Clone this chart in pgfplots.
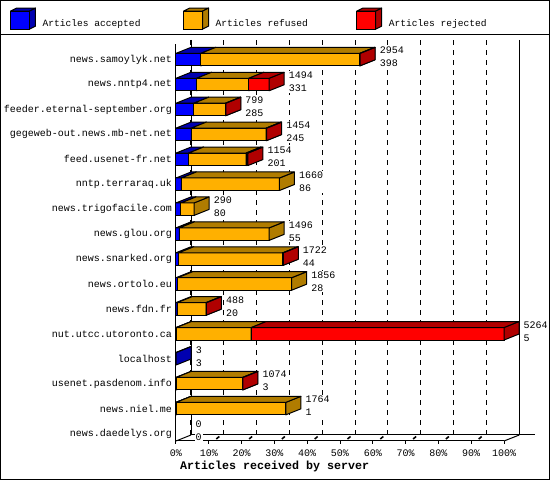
\documentclass[border=0pt]{standalone}
\usepackage{fontspec}
\setmainfont{Liberation Mono}
\usepackage{pgfplots}
\usepackage{pgfplotstable}
\pgfplotsset{compat=1.18}

\definecolor{accA}{HTML}{0000FF}
\definecolor{accB}{HTML}{0000B0}
\definecolor{refA}{HTML}{FFB000}
\definecolor{refB}{HTML}{B07C00}
\definecolor{rejA}{HTML}{FF0000}
\definecolor{rejB}{HTML}{B00000}

\pgfdeclareplotmark{nix}{}

% articles per server: accepted, refused, rejected, total received
\pgfplotstableread{
y  acc  ref   rej   tot
15 398  2551  5     2954
14 331  837   326   1494
13 285  510   4     799
12 245  1201  8     1454
11 201  923   30    1154
10 86   1574  0     1660
9  80   210   0     290
8  55   1441  0     1496
7  44   1673  5     1722
6  28   1828  0     1856
5  20   463   5     488
4  5    1202  4057  5264
3  3    0     0     3
2  3    1066  5     1074
1  1    1763  0     1764
0  0    0     0     0
}\servers

% the stacked bar only positions the segment; its front, top and side
% faces are drawn at its end, so a later segment covers the side face
\pgfplotsset{
  box3d/.style n args={3}{
    draw=none, fill=none,
    mark=nix, scatter,
    visualization depends on={\thisrow{#3}\as\seglen},
    scatter/@pre marker code/.code={%
      \pgfkeys{/pgf/fpu=true,/pgf/fpu/output format=fixed}%
      \pgfmathsetmacro\seg{\seglen*0.06231}%
      \pgfkeys{/pgf/fpu=false}%
      \ifdim\seg pt>0.01pt
        \filldraw[fill=#1, draw=black, line width=1pt]
          (-\seg pt,-6.25pt) rectangle (0pt,6.25pt);
        \filldraw[fill=#2, draw=black, line width=1pt, line join=round]
          (0pt,-6.25pt) -- (15pt,-0.25pt) -- (15pt,12.25pt) -- (0pt,6.25pt) -- cycle;
        \filldraw[fill=#2, draw=black, line width=1pt, line join=round]
          (-\seg pt,6.25pt) -- (0pt,6.25pt) -- (15pt,12.25pt) -- (15pt-\seg pt,12.25pt) -- cycle;
      \fi
    },
    scatter/@post marker code/.code={},
    legend image code/.code={%
      \filldraw[fill=#2, draw=black, line width=1pt, line join=round]
        (0pt,12.5pt) -- (19pt,12.5pt) -- (25pt,15.5pt) -- (6pt,15.5pt) -- cycle;
      \filldraw[fill=#2, draw=black, line width=1pt, line join=round]
        (19pt,-5.5pt) -- (25pt,-2.5pt) -- (25pt,15.5pt) -- (19pt,12.5pt) -- cycle;
      \filldraw[fill=#1, draw=black, line width=1pt] (0pt,-5.5pt) rectangle (19pt,12.5pt);
    },
  },
}

\begin{document}
\begin{tikzpicture}[x=1pt,y=1pt]
\useasboundingbox (0,0) rectangle (550,480);
% back wall and floor
\draw[line width=1pt] (191,440) -- (191,45) -- (535,45);
\draw[line width=1pt] (519.3,440) -- (519.3,45);
\draw[line width=1pt] (176,39) -- (191,45);
\draw[line width=1pt] (504,39) -- (519.3,45);
\foreach \i in {1,...,9} \draw[line width=1.6pt] (176+32.8*\i+7.5,41) -- ++(3,2.5);

\begin{axis}[
  at={(176pt,39pt)}, anchor=south west,
  scale only axis, width=328pt, height=396.6pt,
  xmin=0, xmax=5264, ymin=-0.30, ymax=15.61,
  xbar stacked, bar width=12.5pt, reverse stacked plots=false,
  clip=false,
  axis x line*=bottom, axis y line*=left,
  axis line style={line width=1pt, -},
  xtick={0,526.4,1052.8,1579.2,2105.6,2632,3158.4,3684.8,4211.2,4737.6,5264},
  xticklabels={0\%,10\%,20\%,30\%,40\%,50\%,60\%,70\%,80\%,90\%,100\%},
  ytick={0,...,15},
  yticklabels={news.daedelys.org,news.niel.me,usenet.pasdenom.info,localhost,
    nut.utcc.utoronto.ca,news.fdn.fr,news.ortolo.eu,news.snarked.org,news.glou.org,
    news.trigofacile.com,nntp.terraraq.uk,feed.usenet-fr.net,gegeweb-out.news.mb-net.net,
    feeder.eternal-september.org,news.nntp4.net,news.samoylyk.net},
  tick style={black, line width=1pt},
  major tick length=3pt, tick align=outside,
  ytick style={draw=none},
  xmajorgrids,
  major grid style={black, line width=1pt, dash pattern=on 5pt off 5pt, xshift=15pt, yshift=6pt},
  tick label style={font=\fontsize{10}{11}\selectfont},
  yticklabel style={inner sep=0pt, xshift=-1pt},
  xticklabel style={inner sep=0pt, yshift=-5.5pt},
  xlabel={Articles received by server},
  xlabel style={at={(axis description cs:0,0)}, anchor=west, inner sep=0pt,
    xshift=4pt, yshift=-25.7pt, font=\fontsize{11.67}{12}\selectfont\bfseries},
  legend columns=3,
  legend cell align=left,
  legend style={at={(axis description cs:-0.5061,1.065)}, anchor=west, draw=none, fill=none,
    inner sep=0pt, outer sep=0pt, nodes={inner sep=0pt, font=\fontsize{9.6}{11}\selectfont},
    /tikz/every odd column/.append style={column sep=6.6pt}},
]
\addplot[box3d={accA}{accB}{acc}] table[x=acc, y=y]{\servers};
\addlegendentry{\makebox[140.5pt][l]{Articles accepted}}
\addplot[box3d={refA}{refB}{ref}] table[x=ref, y=y]{\servers};
\addlegendentry{\makebox[140.5pt][l]{Articles refused}}
\addplot[box3d={rejA}{rejB}{rej}] table[x=rej, y=y]{\servers};
\addlegendentry{Articles rejected}
% total and accepted count beside each bar (a hair-thin segment on top of the stack,
% since points of zero length are not drawn)
\addplot[forget plot, draw=none, fill=none, mark=nix, scatter,
  visualization depends on={\thisrow{tot}\as\totn},
  visualization depends on={\thisrow{acc}\as\accn},
  scatter/@pre marker code/.code={%
    \pgfkeys{/pgf/fpu=false}%
    \node[anchor=west, align=left, xshift=18.5pt, yshift=2.5pt, fill=white,
      inner sep=1pt, text=black, font=\fontsize{10}{11}\selectfont]
      at (0pt,0pt)
      {\pgfmathprintnumber[fixed,precision=0,1000 sep={},assume math mode=true]{\totn}\\[2pt]
       \pgfmathprintnumber[fixed,precision=0,1000 sep={},assume math mode=true]{\accn}};
  },
  scatter/@post marker code/.code={}]
  table[x expr=0.01, y=y]{\servers};
\end{axis}

\draw[line width=1pt] (0.5,0.5) rectangle (549.5,479.5);
\draw[line width=1pt] (0,445) -- (550,445);
\end{tikzpicture}
\end{document}
